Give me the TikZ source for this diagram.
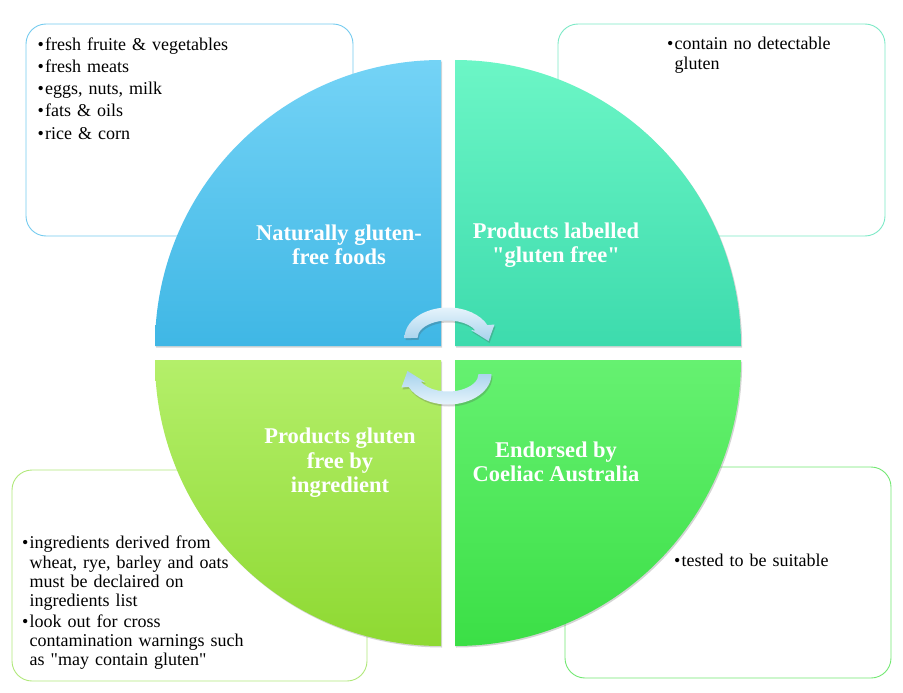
\documentclass[tikz,border=0pt]{standalone}
\usepackage{fontspec}
\setmainfont{Liberation Serif}
\usetikzlibrary{shadows}
\definecolor{tlA}{HTML}{74D3F6}
\definecolor{tlB}{HTML}{3FB7E5}
\definecolor{trA}{HTML}{6CF6C6}
\definecolor{trB}{HTML}{3DDBAD}
\definecolor{blA}{HTML}{B4EF6A}
\definecolor{blB}{HTML}{8ED932}
\definecolor{brA}{HTML}{66F171}
\definecolor{brB}{HTML}{3BDF46}
\definecolor{tlS}{HTML}{74CBEF}
\definecolor{trS}{HTML}{7CE9C6}
\definecolor{blS}{HTML}{B0E87A}
\definecolor{brS}{HTML}{72E872}
\definecolor{arA}{HTML}{E6F3FC}
\definecolor{arB}{HTML}{A6D2EC}
\newcommand\bitem[1]{\par\noindent\hangindent=7.5pt\hangafter=1\makebox[7.5pt][l]{•}#1\par}
\begin{document}
\begin{tikzpicture}[x=1pt,y=-1pt,
  infobox/.style={draw, line width=0.9pt, fill=white, rounded corners=20pt},
  quad/.style={drop shadow={shadow xshift=1.2pt, shadow yshift=-1.5pt, opacity=0.28, fill=black!60}},
  quadlabel/.style={text=white, align=center, inner sep=0pt, font=\bfseries\fontsize{22.5}{24.5}\selectfont},
  bodytext/.style={anchor=north west, inner sep=0pt, text width=330pt, align=left},
  arrowshape/.style={drop shadow={shadow xshift=1pt, shadow yshift=-2pt, opacity=0.25, fill=black!70}}
]
\useasboundingbox (0,0) rectangle (903,693);

% info boxes
\path[infobox, draw=tlS] (26,24) rectangle (353,236);
\path[infobox, draw=trS] (558,24) rectangle (885,236);
\path[infobox, draw=blS] (12,470) rectangle (367,681);
\path[infobox, draw=brS] (565,467) rectangle (891,678);

% quadrants
\shade[quad, top color=tlA, bottom color=tlB] (441,346) -- (155,346) arc[start angle=180, end angle=270, radius=286] -- cycle;
\shade[quad, top color=trA, bottom color=trB] (455,346) -- (455,60) arc[start angle=270, end angle=360, radius=286] -- cycle;
\shade[quad, top color=brA, bottom color=brB] (455,360) -- (741,360) arc[start angle=0, end angle=90, radius=286] -- cycle;
\shade[quad, top color=blA, bottom color=blB] (441,360) -- (441,646) arc[start angle=90, end angle=180, radius=286] -- cycle;

% quadrant labels
\node[quadlabel] (q1) at (339,245) {Naturally gluten-\\free foods};
\node[quadlabel] (q2) at (556,245) {Products labelled\\\textquotedbl gluten free\textquotedbl};
\node[quadlabel] (q3) at (340,463) {Products gluten\\free by\\ingredient};
\node[quadlabel] (q4) at (556,462) {Endorsed by\\Coeliac Australia};

% circular arrows
\shade[arrowshape, top color=arA, bottom color=arB]
  (404.5,338) arc[start angle=180, end angle=335, x radius=43.5, y radius=30.5]
  -- (494.5,324.5) -- (488.5,341) -- (471,330) -- (475.6,330.6)
  arc[start angle=335, end angle=180, x radius=30.5, y radius=17.5] -- cycle;
\begin{scope}[rotate around={180:(448,356)}]
\shade[arrowshape, top color=arB, bottom color=arA]
  (404.5,338) arc[start angle=180, end angle=335, x radius=43.5, y radius=30.5]
  -- (494.5,324.5) -- (488.5,341) -- (471,330) -- (475.6,330.6)
  arc[start angle=335, end angle=180, x radius=30.5, y radius=17.5] -- cycle;
\end{scope}

% texts
\node[bodytext, font=\fontsize{18}{22.2}\selectfont] (t1) at (37.5,28) {%
\bitem{fresh fruite \& vegetables}\bitem{fresh meats}\bitem{eggs, nuts, milk}\bitem{fats \& oils}\bitem{rice \& corn}};
\node[bodytext, font=\fontsize{18}{20}\selectfont] (t2) at (667,29) {%
\bitem{contain no detectable\newline gluten}};
\node[bodytext, font=\fontsize{18}{19.2}\selectfont] (t3) at (22,529.5) {%
\bitem{ingredients derived from\newline wheat, rye, barley and oats\newline must be declaired\ on\newline ingredients list}\vspace{1.5pt}%
\bitem{look out for cross\newline contamination warnings such\newline as \textquotedbl may contain gluten\textquotedbl}};
\node[bodytext, font=\fontsize{18}{20}\selectfont] (t4) at (674,546) {%
\bitem{tested to be suitable}};
\end{tikzpicture}
\end{document}
